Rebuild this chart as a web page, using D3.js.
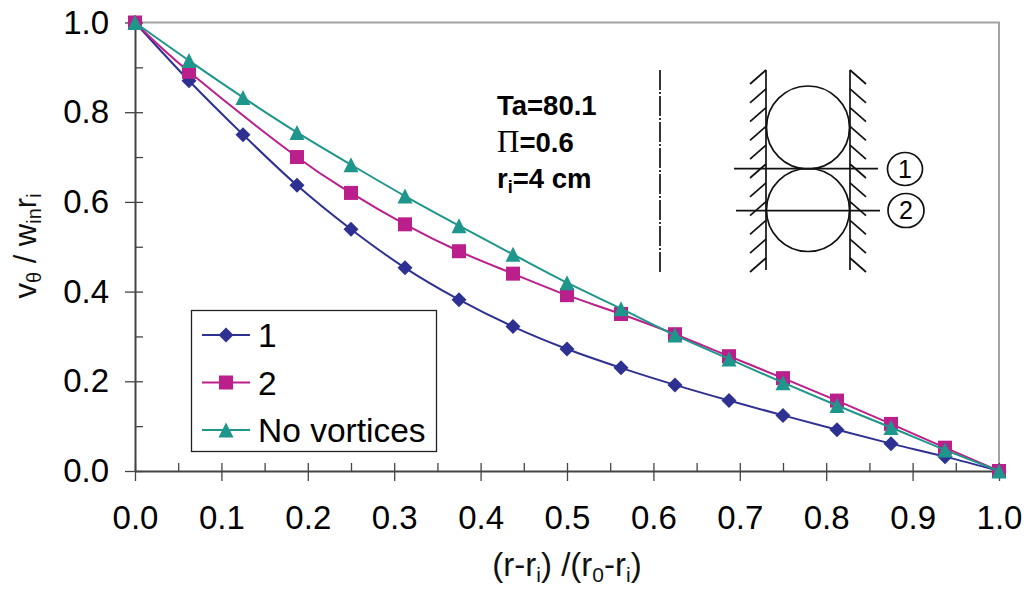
<!DOCTYPE html>
<html lang="en">
<head>
<meta charset="UTF-8">
<title>Tangential velocity profiles</title>
<script src="https://cdn.jsdelivr.net/npm/d3@7"></script>
<style>
    html, body { margin: 0; padding: 0; background: #fff; }
    svg { display: block; font-family: "Liberation Sans", Arial, sans-serif; }
    .tick-label { font-size: 33px; fill: #000; }
    .axis-title { font-size: 31px; fill: #111; }
    .note { font-size: 27.5px; font-weight: bold; fill: #000; }
    .legend text { font-size: 33.5px; fill: #000; }
    .sketch { fill: none; stroke: #111; stroke-width: 1.7px; }
</style>
</head>
<body>
<div id="graphDiv"></div>
<script>
    // Values
    const radius = [0, 0.0625, 0.125, 0.1875, 0.25, 0.3125, 0.375, 0.4375, 0.5, 0.5625, 0.625, 0.6875, 0.75, 0.8125, 0.875, 0.9375, 1];
    const series1 = [1, 0.87, 0.75, 0.637, 0.539, 0.453, 0.382, 0.322, 0.272, 0.23, 0.192, 0.157, 0.124, 0.092, 0.061, 0.032, 0];
    const series2 = [1, 0.89, null, 0.70, 0.62, 0.55, 0.49, 0.44, 0.392, 0.35, 0.305, 0.256, 0.207, 0.157, 0.105, 0.052, 0];
    const noVortices = [1, 0.915, 0.833, 0.755, 0.683, 0.613, 0.547, 0.483, 0.42, 0.362, 0.303, 0.25, 0.197, 0.146, 0.097, 0.047, 0];
    const xMajor = [0, 0.1, 0.2, 0.3, 0.4, 0.5, 0.6, 0.7, 0.8, 0.9, 1];
    const xMinor = [0.05, 0.15, 0.25, 0.35, 0.45, 0.55, 0.65, 0.75, 0.85, 0.95];
    const yMajor = [0, 0.2, 0.4, 0.6, 0.8, 1];
    const yMinor = [0.1, 0.3, 0.5, 0.7, 0.9];
    const legendNames = ["1", "2", "No vortices"];
    const seriesColors = ["#2e3192", "#bb1f8b", "#1f968b"];

    // Excel style markers: as wide as they are tall
    const wideDiamond = {draw(c, s) {
        const r = Math.sqrt(s) / 2;
        c.moveTo(0, -r); c.lineTo(r, 0); c.lineTo(0, r); c.lineTo(-r, 0); c.closePath();
    }};
    const wideTriangle = {draw(c, s) {
        const r = Math.sqrt(s) / 2;
        c.moveTo(0, -r); c.lineTo(r, r); c.lineTo(-r, r); c.closePath();
    }};
    const symbols = [wideDiamond, d3.symbolSquare, wideTriangle];
    const symbolSizes = [225, 196, 225];

    const width = 1029;
    const height = 594;
    const margin = {top: 22.5, right: 30, bottom: 123, left: 135};

    const x = d3.scaleLinear().domain([0, 1]).range([margin.left, width - margin.right]);
    const y = d3.scaleLinear().domain([0, 1]).range([height - margin.bottom, margin.top]);

    const svg = d3.select("#graphDiv").append("svg")
        .attr("width", width)
        .attr("height", height);

    // Grey top and right frame
    svg.append("path")
        .attr("d", `M${x(0)},${y(1)}H${x(1)}V${y(0)}`)
        .attr("fill", "none")
        .attr("stroke", "#a3a3a3")
        .attr("stroke-width", 2);

    // Axes: major ticks cross the line, minor ticks stay inside
    function styleAxis(g) {
        g.select(".domain").attr("stroke", "#444").attr("stroke-width", 2);
        g.selectAll(".tick line").attr("stroke", "#444").attr("stroke-width", 1.3);
        g.selectAll(".tick text").attr("class", "tick-label");
    }

    const bottomMajor = svg.append("g")
        .attr("transform", `translate(0,${y(0)})`)
        .call(d3.axisBottom(x).tickValues(xMajor).tickFormat(d3.format(".1f")).tickSizeOuter(0).tickPadding(29));
    styleAxis(bottomMajor);
    bottomMajor.selectAll(".tick line").attr("y1", -8).attr("y2", 10);

    const bottomMinor = svg.append("g")
        .attr("transform", `translate(0,${y(0)})`)
        .call(d3.axisBottom(x).tickValues(xMinor).tickFormat("").tickSizeOuter(0));
    styleAxis(bottomMinor);
    bottomMinor.select(".domain").remove();
    bottomMinor.selectAll(".tick line").attr("y1", -8).attr("y2", 0);

    const leftMajor = svg.append("g")
        .attr("transform", `translate(${x(0)},0)`)
        .call(d3.axisLeft(y).tickValues(yMajor).tickFormat(d3.format(".1f")).tickSizeOuter(0).tickPadding(20));
    styleAxis(leftMajor);
    leftMajor.selectAll(".tick line").attr("x1", -10).attr("x2", 8);

    const leftMinor = svg.append("g")
        .attr("transform", `translate(${x(0)},0)`)
        .call(d3.axisLeft(y).tickValues(yMinor).tickFormat("").tickSizeOuter(0));
    styleAxis(leftMinor);
    leftMinor.select(".domain").remove();
    leftMinor.selectAll(".tick line").attr("x1", 0).attr("x2", 8);

    // Series lines and markers
    const line = d3.line()
        .x(d => x(d.r))
        .y(d => y(d.v))
        .curve(d3.curveCatmullRom.alpha(0));

    [series1, series2, noVortices].forEach((values, i) => {
        const points = radius.map((r, k) => ({r: r, v: values[k]})).filter(d => d.v !== null);
        svg.append("path")
            .datum(points)
            .attr("d", line)
            .attr("fill", "none")
            .attr("stroke", seriesColors[i])
            .attr("stroke-width", 2);
        svg.append("g")
            .selectAll("path")
            .data(points)
            .join("path")
            .attr("d", d3.symbol().type(symbols[i]).size(symbolSizes[i]))
            .attr("transform", d => `translate(${x(d.r)},${y(d.v)})`)
            .attr("fill", seriesColors[i]);
    });

    // Axis titles
    const xTitle = svg.append("text")
        .attr("class", "axis-title")
        .attr("font-size", 33)
        .style("font-size", "33px")
        .attr("x", 567)
        .attr("y", 576)
        .attr("text-anchor", "middle");
    xTitle.append("tspan").text("(r-r");
    xTitle.append("tspan").attr("font-size", 21).attr("dy", 6).text("i");
    xTitle.append("tspan").attr("dy", -6).text(") /(r");
    xTitle.append("tspan").attr("font-size", 21).attr("dy", 6).text("0");
    xTitle.append("tspan").attr("dy", -6).text("-r");
    xTitle.append("tspan").attr("font-size", 21).attr("dy", 6).text("i");
    xTitle.append("tspan").attr("dy", -6).text(")");

    const yTitle = svg.append("text")
        .attr("class", "axis-title")
        .attr("text-anchor", "middle")
        .attr("transform", "translate(36,246) rotate(-90)");
    yTitle.append("tspan").text("v");
    yTitle.append("tspan").attr("font-size", 20).attr("dy", 5).text("θ");
    yTitle.append("tspan").attr("dy", -5).text(" / w");
    yTitle.append("tspan").attr("font-size", 20).attr("dy", 5).text("in");
    yTitle.append("tspan").attr("dy", -5).text("r");
    yTitle.append("tspan").attr("font-size", 20).attr("dy", 5).text("i");

    // Notes
    svg.append("text").attr("class", "note").attr("x", 497).attr("y", 115).text("Ta=80.1");
    const pi = svg.append("text").attr("class", "note").attr("x", 497).attr("y", 152);
    pi.append("tspan").attr("font-family", "Liberation Serif").attr("font-weight", "normal").attr("font-size", 31).text("Π");
    pi.append("tspan").text("=0.6");
    const ri = svg.append("text").attr("class", "note").attr("x", 497).attr("y", 188);
    ri.append("tspan").text("r");
    ri.append("tspan").attr("font-size", 18).attr("dy", 5).text("i");
    ri.append("tspan").attr("dy", -5).text("=4 cm");

    // Legend
    const legend = svg.append("g").attr("class", "legend");
    legend.append("rect")
        .attr("x", 191.5).attr("y", 310.5)
        .attr("width", 245).attr("height", 141)
        .attr("fill", "#fff")
        .attr("stroke", "#222")
        .attr("stroke-width", 1.3);
    legendNames.forEach((name, i) => {
        const row = legend.append("g").attr("transform", `translate(0,${335 + i * 47.5})`);
        row.append("line")
            .attr("x1", 202).attr("x2", 250)
            .attr("stroke", seriesColors[i])
            .attr("stroke-width", 2);
        row.append("path")
            .attr("d", d3.symbol().type(symbols[i]).size(symbolSizes[i]))
            .attr("transform", "translate(226,0)")
            .attr("fill", seriesColors[i]);
        row.append("text").attr("x", 258).attr("y", 12).text(name);
    });

    // Sketch of the vortex cells
    const sketch = svg.append("g").attr("class", "sketch");
    sketch.append("line")
        .attr("x1", 660).attr("x2", 660).attr("y1", 70).attr("y2", 272)
        .attr("stroke-dasharray", "20 2 2 2");
    sketch.append("line").attr("x1", 766).attr("x2", 766).attr("y1", 70).attr("y2", 270);
    sketch.append("line").attr("x1", 850).attr("x2", 850).attr("y1", 70).attr("y2", 270);
    d3.range(11).forEach(i => {
        const top = 70 + i * 18.8;
        sketch.append("path").attr("d", `M766,${top}l-16,14`);
        sketch.append("path").attr("d", `M850,${top}l16,14`);
    });
    sketch.append("circle").attr("cx", 808).attr("cy", 127.5).attr("r", 41.5);
    sketch.append("circle").attr("cx", 808).attr("cy", 210).attr("r", 41.5);
    sketch.append("line").attr("x1", 734).attr("x2", 878).attr("y1", 168.7).attr("y2", 168.7);
    sketch.append("line").attr("x1", 736).attr("x2", 880).attr("y1", 210.7).attr("y2", 210.7);
    sketch.append("ellipse").attr("cx", 905).attr("cy", 169).attr("rx", 17.5).attr("ry", 16.5);
    sketch.append("ellipse").attr("cx", 906).attr("cy", 210.5).attr("rx", 18).attr("ry", 17);
    svg.append("text").attr("x", 905).attr("y", 178).attr("text-anchor", "middle").attr("font-size", 25).text("1");
    svg.append("text").attr("x", 906).attr("y", 219).attr("text-anchor", "middle").attr("font-size", 25).text("2");
</script>
</body>
</html>
